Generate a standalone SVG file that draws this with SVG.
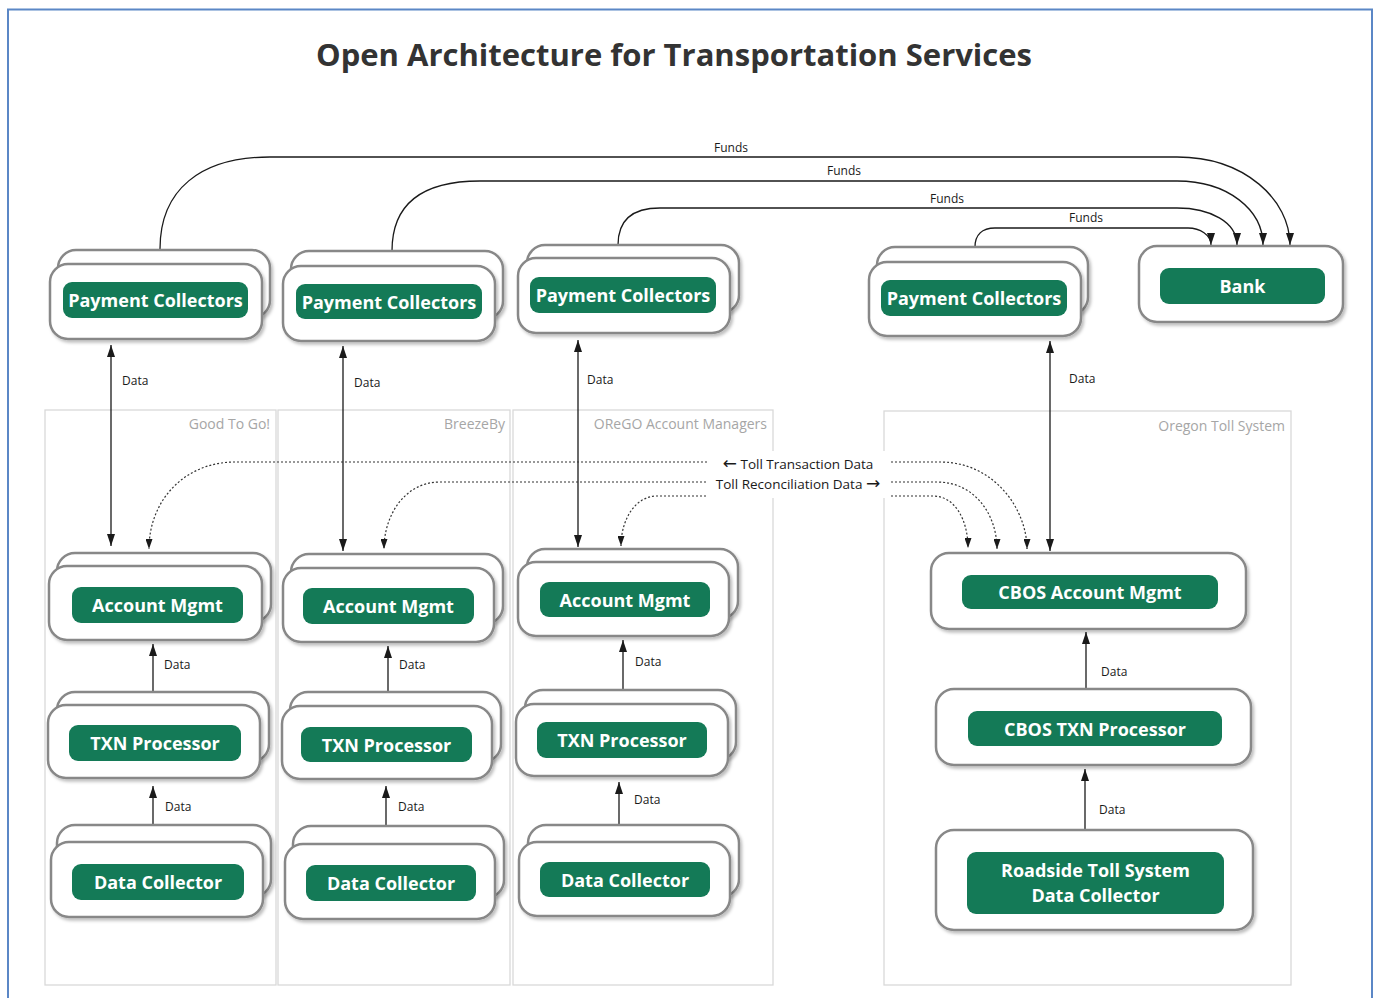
<svg xmlns="http://www.w3.org/2000/svg" width="1380" height="998" viewBox="0 0 1380 998">
  <defs>
    <style>
      .page { fill: #ffffff; stroke: #5b87c6; stroke-width: 2; }
      .title { font-family: "Open Sans", "Liberation Sans", sans-serif; font-weight: 700; font-size: 31px; fill: #333333; text-anchor: middle; }
      .zone { fill: none; stroke: #d9d9d9; stroke-width: 1.3; }
      .zone-label { font-family: "Open Sans", "Liberation Sans", sans-serif; font-size: 14px; fill: #a6a6a6; text-anchor: end; }
      .box { fill: #ffffff; stroke: #888888; stroke-width: 2.5; filter: url(#shadow); }
      .pill { fill: #147a57; }
      .pill-text { font-family: "Open Sans", "Liberation Sans", sans-serif; font-weight: 700; font-size: 18px; fill: #ffffff; text-anchor: middle; dominant-baseline: central; }
      .flow { fill: none; stroke: #1a1a1a; stroke-width: 1.3; }
      .flow-arrow { marker-end: url(#arrow); }
      .flow-both { marker-start: url(#arrow); marker-end: url(#arrow); }
      .dotted { fill: none; stroke: #333333; stroke-width: 1.2; stroke-dasharray: 2 2; marker-end: url(#arrow-small); }
      .small { font-family: "Open Sans", "Liberation Sans", sans-serif; font-size: 12px; fill: #1a1a1a; }
      .toll { font-family: "Open Sans", "Liberation Sans", sans-serif; font-size: 13.5px; fill: #1a1a1a; }
      .glyph { font-family: "DejaVu Sans", sans-serif; font-size: 17px; }
    </style>
    <marker id="arrow" viewBox="0 0 12 8" refX="12" refY="4" markerWidth="12" markerHeight="8" markerUnits="userSpaceOnUse" orient="auto-start-reverse">
      <path d="M0,0 L12,4 L0,8 z" fill="#1a1a1a"/>
    </marker>
    <marker id="arrow-small" viewBox="0 0 10 7" refX="10" refY="3.5" markerWidth="10" markerHeight="7" markerUnits="userSpaceOnUse" orient="auto">
      <path d="M0,0 L10,3.5 L0,7 z" fill="#1a1a1a"/>
    </marker>
    <filter id="shadow" x="-10%" y="-10%" width="125%" height="130%">
      <feDropShadow dx="2" dy="2.5" stdDeviation="1.5" flood-color="#000000" flood-opacity="0.25"/>
    </filter>
  </defs>

  <!-- page frame -->
  <rect class="page" x="8" y="9.5" width="1364" height="1000"/>

  <text class="title" x="674" y="66">Open Architecture for Transportation Services</text>

  <!-- organisation zones -->
  <g id="zones">
    <rect class="zone" x="45" y="410" width="231" height="575"/>
    <text class="zone-label" x="270" y="429">Good To Go!</text>
    <rect class="zone" x="278" y="410" width="232" height="575"/>
    <text class="zone-label" x="505" y="429">BreezeBy</text>
    <rect class="zone" x="513" y="410" width="260" height="575"/>
    <text class="zone-label" x="767" y="429">OReGO Account Managers</text>
    <rect class="zone" x="884" y="411" width="407" height="574"/>
    <text class="zone-label" x="1285" y="431">Oregon Toll System</text>
  </g>

  <g id="connectors">
    <!-- funds to bank -->
    <path class="flow flow-arrow" d="M160,249 C160,190 200,157 270,157 L1177,157 C1245,157 1290,200 1290,245"/>
    <path class="flow flow-arrow" d="M392,251 C392,205 420,181 480,181 L1177,181 C1228,181 1263,210 1263,245"/>
    <path class="flow flow-arrow" d="M618,245 C618,222 630,208 660,208 L1177,208 C1210,208 1237,222 1237,245"/>
    <path class="flow flow-arrow" d="M975,247 C975,235 982,228 995,228 L1188,228 C1200,228 1211,235 1211,245"/>
    <text class="small" x="731" y="152" text-anchor="middle">Funds</text>
    <text class="small" x="844" y="175" text-anchor="middle">Funds</text>
    <text class="small" x="947" y="203" text-anchor="middle">Funds</text>
    <text class="small" x="1086" y="222" text-anchor="middle">Funds</text>

    <!-- payment collectors <-> account management -->
    <path class="flow flow-both" d="M111,345 L111,546"/>
    <path class="flow flow-both" d="M343,346 L343,551"/>
    <path class="flow flow-both" d="M578,340 L578,547"/>
    <path class="flow flow-both" d="M1050,341 L1050,551"/>
    <text class="small" x="122" y="385">Data</text>
    <text class="small" x="354" y="387">Data</text>
    <text class="small" x="587" y="384">Data</text>
    <text class="small" x="1069" y="383">Data</text>

    <!-- txn processor -> account management -->
    <path class="flow flow-arrow" d="M153,691 L153,644"/>
    <path class="flow flow-arrow" d="M388,692 L388,646"/>
    <path class="flow flow-arrow" d="M623,690 L623,640"/>
    <path class="flow flow-arrow" d="M1086,689 L1086,632"/>
    <text class="small" x="164" y="669">Data</text>
    <text class="small" x="399" y="669">Data</text>
    <text class="small" x="635" y="666">Data</text>
    <text class="small" x="1101" y="676">Data</text>

    <!-- data collector -> txn processor -->
    <path class="flow flow-arrow" d="M153,825 L153,786"/>
    <path class="flow flow-arrow" d="M386,826 L386,786"/>
    <path class="flow flow-arrow" d="M619,825 L619,782"/>
    <path class="flow flow-arrow" d="M1085,830 L1085,769"/>
    <text class="small" x="165" y="811">Data</text>
    <text class="small" x="398" y="811">Data</text>
    <text class="small" x="634" y="804">Data</text>
    <text class="small" x="1099" y="814">Data</text>

    <!-- toll transaction / reconciliation exchange -->
    <path class="dotted" d="M707,462 L235,462 C185,462 149,500 149,549"/>
    <path class="dotted" d="M706,482 L440,482 C405,482 384,515 384,549"/>
    <path class="dotted" d="M706,496 L657,496 C635,496 621,520 621,546"/>
    <path class="dotted" d="M891,462 L940,462 C995,462 1027,510 1027,549"/>
    <path class="dotted" d="M891,482 L937,482 C975,482 997,515 997,549"/>
    <path class="dotted" d="M891,496 L933,496 C955,496 968,520 968,548"/>
    <rect x="709" y="451" width="180" height="47" fill="#ffffff"/>
    <text class="toll" x="798" y="469" text-anchor="middle"><tspan class="glyph">←</tspan> Toll Transaction Data</text>
    <text class="toll" x="798" y="489" text-anchor="middle">Toll Reconciliation Data <tspan class="glyph">→</tspan></text>
  </g>

  <!-- Good To Go! -->
  <g id="pc-goodtogo">
    <rect class="box" x="58" y="250" width="212" height="68" rx="18"/>
    <rect class="box" x="50" y="264" width="212" height="75" rx="18"/>
    <rect class="pill" x="63" y="282" width="185" height="36" rx="9"/>
    <text class="pill-text" x="155.5" y="300">Payment Collectors</text>
  </g>
  <g id="am-goodtogo">
    <rect class="box" x="57" y="553" width="214" height="69" rx="18"/>
    <rect class="box" x="49" y="566" width="213" height="74" rx="18"/>
    <rect class="pill" x="72" y="587" width="171" height="36" rx="9"/>
    <text class="pill-text" x="157.5" y="605">Account Mgmt</text>
  </g>
  <g id="txn-goodtogo">
    <rect class="box" x="57" y="692" width="212" height="70" rx="18"/>
    <rect class="box" x="48" y="705" width="212" height="73" rx="18"/>
    <rect class="pill" x="69" y="725" width="172" height="36" rx="9"/>
    <text class="pill-text" x="155" y="743">TXN Processor</text>
  </g>
  <g id="dc-goodtogo">
    <rect class="box" x="57" y="825" width="214" height="72" rx="18"/>
    <rect class="box" x="51" y="842" width="212" height="75" rx="18"/>
    <rect class="pill" x="72" y="864" width="172" height="36" rx="9"/>
    <text class="pill-text" x="158" y="882">Data Collector</text>
  </g>

  <!-- BreezeBy -->
  <g id="pc-breezeby">
    <rect class="box" x="291" y="251" width="212" height="68" rx="18"/>
    <rect class="box" x="283" y="266" width="212" height="75" rx="18"/>
    <rect class="pill" x="296" y="284" width="186" height="35" rx="9"/>
    <text class="pill-text" x="389" y="301.5">Payment Collectors</text>
  </g>
  <g id="am-breezeby">
    <rect class="box" x="291" y="554" width="212" height="70" rx="18"/>
    <rect class="box" x="283" y="568" width="211" height="74" rx="18"/>
    <rect class="pill" x="303" y="588" width="171" height="36" rx="9"/>
    <text class="pill-text" x="388.5" y="606">Account Mgmt</text>
  </g>
  <g id="txn-breezeby">
    <rect class="box" x="290" y="692" width="211" height="70" rx="18"/>
    <rect class="box" x="282" y="706" width="210" height="73" rx="18"/>
    <rect class="pill" x="301" y="727" width="171" height="35" rx="9"/>
    <text class="pill-text" x="386.5" y="744.5">TXN Processor</text>
  </g>
  <g id="dc-breezeby">
    <rect class="box" x="293" y="826" width="211" height="72" rx="18"/>
    <rect class="box" x="285" y="844" width="210" height="75" rx="18"/>
    <rect class="pill" x="306" y="865" width="170" height="36" rx="9"/>
    <text class="pill-text" x="391" y="883">Data Collector</text>
  </g>

  <!-- OReGO Account Managers -->
  <g id="pc-orego">
    <rect class="box" x="527" y="245" width="212" height="68" rx="18"/>
    <rect class="box" x="518" y="258" width="212" height="75" rx="18"/>
    <rect class="pill" x="530" y="277" width="186" height="36" rx="9"/>
    <text class="pill-text" x="623" y="295">Payment Collectors</text>
  </g>
  <g id="am-orego">
    <rect class="box" x="527" y="549" width="211" height="70" rx="18"/>
    <rect class="box" x="518" y="562" width="211" height="74" rx="18"/>
    <rect class="pill" x="540" y="582" width="170" height="35" rx="9"/>
    <text class="pill-text" x="625" y="599.5">Account Mgmt</text>
  </g>
  <g id="txn-orego">
    <rect class="box" x="525" y="690" width="211" height="70" rx="18"/>
    <rect class="box" x="516" y="704" width="212" height="72" rx="18"/>
    <rect class="pill" x="537" y="722" width="170" height="36" rx="9"/>
    <text class="pill-text" x="622" y="740">TXN Processor</text>
  </g>
  <g id="dc-orego">
    <rect class="box" x="528" y="825" width="211" height="72" rx="18"/>
    <rect class="box" x="519" y="842" width="211" height="74" rx="18"/>
    <rect class="pill" x="540" y="862" width="170" height="35" rx="9"/>
    <text class="pill-text" x="625" y="879.5">Data Collector</text>
  </g>

  <!-- Oregon Toll System and bank -->
  <g id="pc-oregon">
    <rect class="box" x="877" y="247" width="211" height="68" rx="18"/>
    <rect class="box" x="869" y="262" width="212" height="74" rx="18"/>
    <rect class="pill" x="881" y="280" width="186" height="36" rx="9"/>
    <text class="pill-text" x="974" y="298">Payment Collectors</text>
  </g>
  <g id="bank">
    <rect class="box" x="1139" y="246" width="204" height="76" rx="18"/>
    <rect class="pill" x="1160" y="268" width="165" height="36" rx="9"/>
    <text class="pill-text" x="1242.5" y="286">Bank</text>
  </g>
  <g id="cbos-account-mgmt">
    <rect class="box" x="931" y="553" width="315" height="76" rx="18"/>
    <rect class="pill" x="962" y="575" width="256" height="34" rx="9"/>
    <text class="pill-text" x="1090" y="592">CBOS Account Mgmt</text>
  </g>
  <g id="cbos-txn-processor">
    <rect class="box" x="936" y="689" width="315" height="76" rx="18"/>
    <rect class="pill" x="968" y="711" width="254" height="35" rx="9"/>
    <text class="pill-text" x="1095" y="728.5">CBOS TXN Processor</text>
  </g>
  <g id="roadside-data-collector">
    <rect class="box" x="936" y="830" width="317" height="100" rx="18"/>
    <rect class="pill" x="967" y="852" width="257" height="62" rx="9"/>
    <text class="pill-text" x="1095.5" y="870">Roadside Toll System</text>
    <text class="pill-text" x="1095.5" y="895">Data Collector</text>
  </g>
</svg>
